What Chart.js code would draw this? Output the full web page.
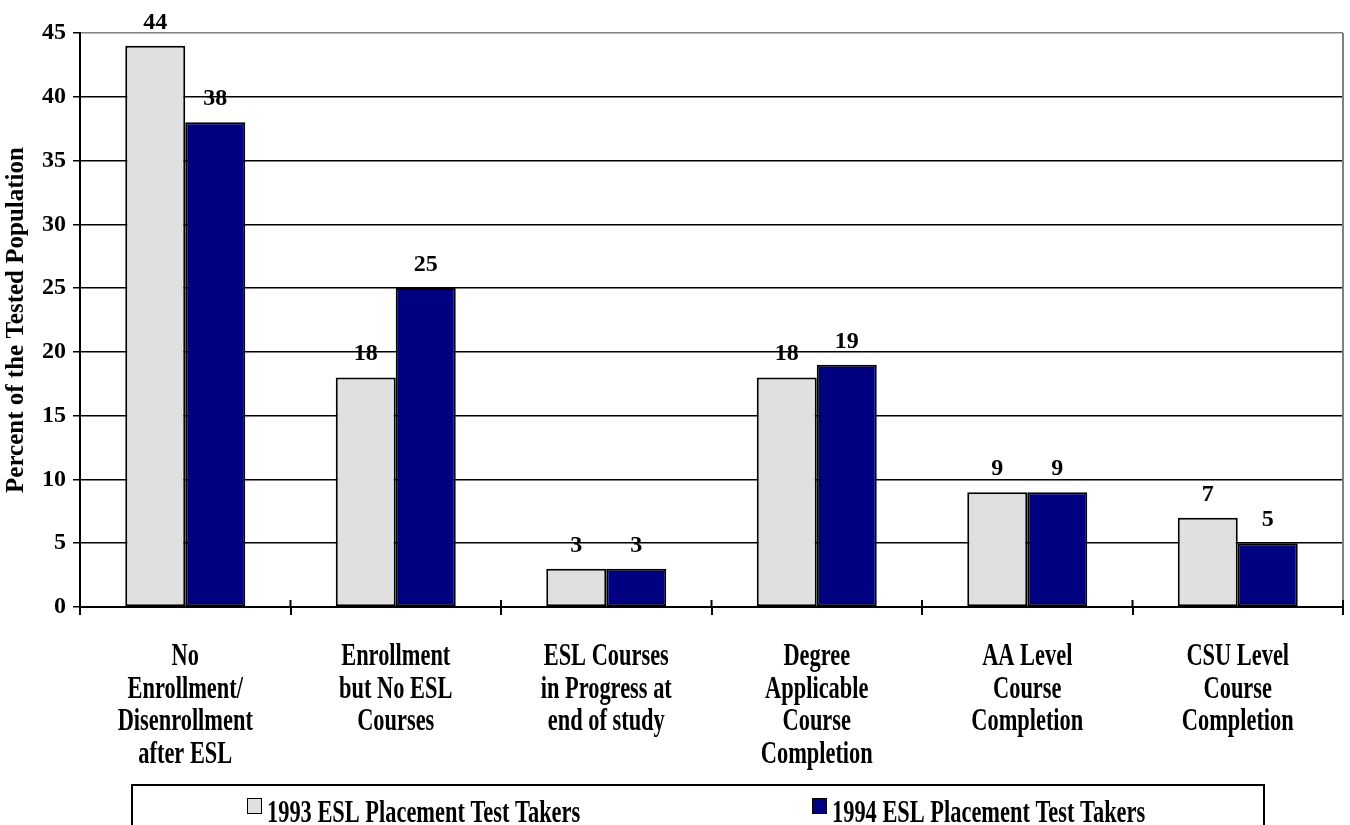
<!DOCTYPE html>
<html>
<head>
<meta charset="utf-8">
<script src="https://cdn.jsdelivr.net/npm/chart.js@4.4.1/dist/chart.umd.min.js"></script>
<style>
  html, body { margin: 0; padding: 0; background: #fff; overflow: hidden; }
</style>
</head>
<body>
<canvas id="chart" width="1350" height="825"></canvas>
<script>
// data
const categories = [
  ['No', 'Enrollment/', 'Disenrollment', 'after ESL'],
  ['Enrollment', 'but No ESL', 'Courses'],
  ['ESL Courses', 'in Progress at', 'end of study'],
  ['Degree', 'Applicable', 'Course', 'Completion'],
  ['AA Level', 'Course', 'Completion'],
  ['CSU Level', 'Course', 'Completion']
];
const seriesNames = ['1993 ESL Placement Test Takers', '1994 ESL Placement Test Takers'];
const values1993 = [44, 18, 3, 18, 9, 7];
const values1994 = [38, 25, 3, 19, 9, 5];
const yMin = 0;
const yMax = 45;
const yStep = 5;
const yTitle = 'Percent of the Tested Population';

const serif = '"Liberation Serif", "Times New Roman", serif';

// the category and legend texts are drawn narrow, like the old chart
function narrowText(ctx, text, x, y, align) {
  ctx.save();
  ctx.translate(x, y);
  ctx.scale(0.7, 1);
  ctx.textAlign = align;
  ctx.fillText(text, 0, 0);
  ctx.restore();
}

const valueLabels = {
  id: 'valueLabels',
  afterDatasetsDraw(chart) {
    const ctx = chart.ctx;
    ctx.save();
    ctx.font = 'bold 24px ' + serif;
    ctx.fillStyle = '#000';
    ctx.textAlign = 'center';
    ctx.textBaseline = 'alphabetic';
    chart.data.datasets.forEach((ds, i) => {
      chart.getDatasetMeta(i).data.forEach((bar, j) => {
        ctx.fillText(ds.data[j], bar.x, bar.y - 17);
      });
    });
    ctx.restore();
  }
};

const plotFrame = {
  id: 'plotFrame',
  beforeDatasetsDraw(chart) {
    const ctx = chart.ctx, a = chart.chartArea, x = chart.scales.x;
    ctx.save();
    ctx.strokeStyle = '#808080';
    ctx.lineWidth = 2;
    ctx.beginPath();
    ctx.moveTo(a.right, a.top);
    ctx.lineTo(a.right, a.bottom);
    ctx.stroke();
    // category tick marks also poke a little above the axis
    ctx.strokeStyle = '#000';
    const half = (x.getPixelForValue(1) - x.getPixelForValue(0)) / 2;
    ctx.beginPath();
    for (let i = 0; i <= categories.length; i++) {
      const px = x.getPixelForValue(i) - half;
      ctx.moveTo(px, a.bottom);
      ctx.lineTo(px, a.bottom - 7);
    }
    ctx.stroke();
    ctx.restore();
  }
};

const xLabels = {
  id: 'xLabels',
  afterDraw(chart) {
    const ctx = chart.ctx, x = chart.scales.x;
    ctx.save();
    ctx.font = 'bold 32px ' + serif;
    ctx.fillStyle = '#000';
    ctx.textBaseline = 'alphabetic';
    categories.forEach((lines, i) => {
      const cx = x.getPixelForValue(i);
      lines.forEach((line, k) => narrowText(ctx, line, cx, x.top + 58 + k * 32.7, 'center'));
    });
    ctx.restore();
  }
};

const boxLegend = {
  id: 'boxLegend',
  afterDraw(chart) {
    const ctx = chart.ctx;
    const starts = [247, 812];
    ctx.save();
    ctx.strokeStyle = '#000';
    ctx.lineWidth = 2;
    ctx.strokeRect(132, 785, 1132, 60);
    ctx.font = 'bold 32px ' + serif;
    ctx.textBaseline = 'alphabetic';
    chart.data.datasets.forEach((ds, i) => {
      const sx = starts[i];
      ctx.fillStyle = ds.backgroundColor;
      ctx.fillRect(sx, 798, 14, 15);
      ctx.lineWidth = 1;
      ctx.strokeRect(sx + 0.5, 798.5, 14, 15);
      ctx.fillStyle = '#000';
      narrowText(ctx, ds.label, sx + 20, 822, 'left');
    });
    ctx.restore();
  }
};

new Chart(document.getElementById('chart'), {
  type: 'bar',
  data: {
    labels: categories.map(c => c.join(' ')),
    datasets: [
      {
        label: seriesNames[0],
        data: values1993,
        backgroundColor: '#E0E0E0',
        borderColor: '#000',
        borderWidth: 2,
        borderSkipped: false,
        categoryPercentage: 0.57,
        barPercentage: 1.0
      },
      {
        label: seriesNames[1],
        data: values1994,
        backgroundColor: '#000080',
        borderColor: '#000',
        borderWidth: 2,
        borderSkipped: false,
        categoryPercentage: 0.57,
        barPercentage: 1.0
      }
    ]
  },
  options: {
    responsive: false,
    animation: false,
    layout: { padding: { top: 33, right: 7, left: 0, bottom: 0 } },
    plugins: {
      legend: { display: false },
      tooltip: { enabled: false }
    },
    scales: {
      x: {
        ticks: { display: false },
        grid: { drawOnChartArea: false, drawTicks: true, tickLength: 8, color: '#000', lineWidth: 2, offset: true },
        border: { color: '#000', width: 2 },
        afterFit: s => { s.height = 218; }
      },
      y: {
        min: yMin,
        max: yMax,
        ticks: {
          stepSize: yStep,
          color: '#000',
          padding: 7,
          font: { family: serif, size: 24, weight: 'bold' }
        },
        grid: {
          color: c => (c.tick && c.tick.value === yMax) ? '#808080' : '#000',
          lineWidth: 1.5,
          tickLength: 7,
          tickColor: '#000'
        },
        border: { color: '#000', width: 2 },
        title: {
          display: true,
          text: yTitle,
          color: '#000',
          font: { family: serif, size: 25, weight: 'bold' },
          padding: { top: 2, bottom: 0 }
        },
        afterFit: s => { s.width = 80; }
      }
    }
  },
  plugins: [plotFrame, valueLabels, xLabels, boxLegend]
});
</script>
</body>
</html>
